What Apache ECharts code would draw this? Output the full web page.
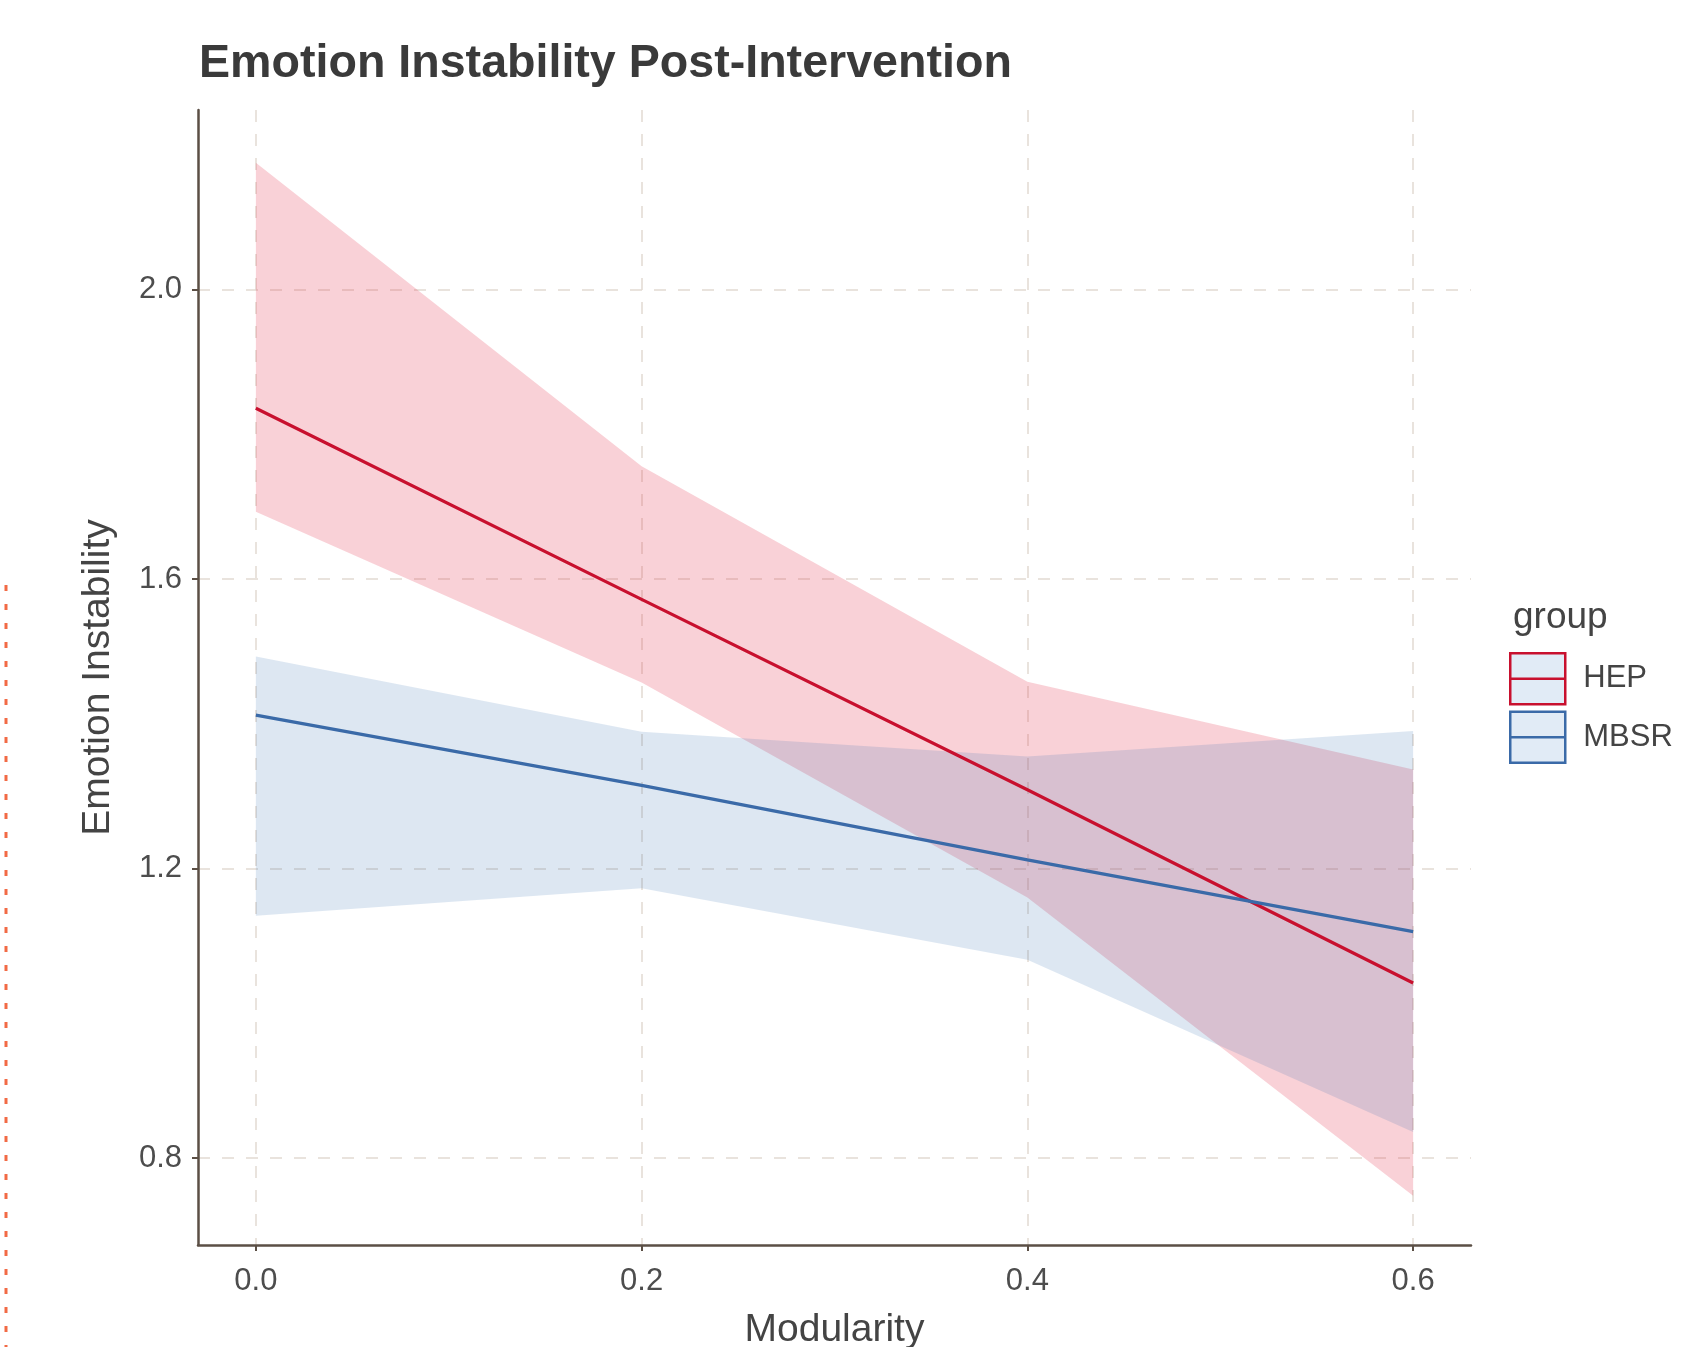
<!DOCTYPE html>
<html>
<head>
<meta charset="utf-8">
<title>Emotion Instability Post-Intervention</title>
<script src="https://cdn.jsdelivr.net/npm/echarts@6/dist/echarts.min.js"></script>
<style>
  html, body { margin: 0; padding: 0; background: #fff; }
  #chart { width: 1698px; height: 1347px; }
</style>
</head>
<body>
<div id="chart"></div>
<script>
  // points where the model was evaluated
  var modularity = [0, 0.2, 0.4, 0.6]
  var xTicks = [0, 0.2, 0.4, 0.6]
  var yTicks = [0.8, 1.2, 1.6, 2.0]

  var hepFit = [1.836, 1.572, 1.309, 1.042]
  var hepLow = [1.693, 1.457, 1.160, 0.748]
  var hepHigh = [2.175, 1.756, 1.458, 1.337]

  var mbsrFit = [1.412, 1.315, 1.212, 1.113]
  var mbsrLow = [1.135, 1.173, 1.074, 0.836]
  var mbsrHigh = [1.493, 1.389, 1.355, 1.390]

  var RED = '#c8102e'
  var BLUE = '#3a6aa8'
  var AXIS = '#5b4f45'
  var GRID = '#e2dad2'
  var FONT = 'Liberation Sans, Arial, sans-serif'

  function pairs(ys) {
    return modularity.map(function (x, i) { return [x, ys[i]] })
  }

  // confidence ribbon, drawn as one polygon through the axis scales
  function bandSeries(name, lo, hi, fill) {
    return {
      name: name + ' band',
      type: 'custom',
      silent: true,
      data: modularity.map(function (x, i) { return [x, lo[i], hi[i]] }),
      encode: { x: 0, y: [1, 2] },
      renderItem: function (params, api) {
        if (params.dataIndex !== 0) {
          return null
        }
        var upper = modularity.map(function (x, i) { return api.coord([x, hi[i]]) })
        var lower = modularity.map(function (x, i) { return api.coord([x, lo[i]]) }).reverse()
        return {
          type: 'polygon',
          shape: { points: upper.concat(lower) },
          style: { fill: fill }
        }
      }
    }
  }

  var keyIcon = 'path://M0,0L55,0L55,51L0,51Z M0,25.5L55,25.5'

  var chart = echarts.init(document.getElementById('chart'))
  chart.setOption({
    animation: false,
    backgroundColor: '#ffffff',
    title: [{
      text: 'Emotion Instability Post-Intervention',
      left: 194,
      top: 36,
      textStyle: { fontFamily: FONT, fontSize: 46.6, fontWeight: 'bold', color: '#3a3a3a' }
    }, {
      text: 'group',
      left: 1508,
      top: 594,
      textStyle: { fontFamily: FONT, fontSize: 37, fontWeight: 'normal', color: '#444' }
    }],
    grid: { left: 198, right: 227, top: 110, bottom: 102, outerBoundsMode: 'none' },
    legend: {
      orient: 'vertical',
      left: 1509,
      top: 652,
      padding: 0,
      itemWidth: 55,
      itemHeight: 51,
      itemGap: 5,
      selectedMode: false,
      textStyle: { fontFamily: FONT, fontSize: 31, color: '#444', padding: [0, 0, 0, 13] },
      data: [
        { name: 'HEP', icon: keyIcon, itemStyle: { color: '#e1ebf6', borderColor: RED, borderWidth: 2.5 } },
        { name: 'MBSR', icon: keyIcon, itemStyle: { color: '#e1ebf6', borderColor: BLUE, borderWidth: 2.5 } }
      ]
    },
    xAxis: {
      type: 'value',
      min: -0.03,
      max: 0.63,
      name: 'Modularity',
      nameLocation: 'middle',
      nameGap: 66,
      nameTextStyle: { fontFamily: FONT, fontSize: 39, color: '#444' },
      axisLine: { onZero: false, lineStyle: { color: AXIS, width: 2.5 } },
      axisTick: { customValues: xTicks, length: 6, lineStyle: { color: AXIS, width: 2 } },
      axisLabel: {
        customValues: xTicks,
        margin: 21,
        fontFamily: FONT,
        fontSize: 31,
        color: '#4d4d4d',
        formatter: function (v) { return v.toFixed(1) }
      },
      splitLine: { show: true, lineStyle: { color: GRID, width: 1.5, type: [12, 12] } }
    },
    yAxis: {
      type: 'value',
      min: 0.68,
      max: 2.248,
      name: 'Emotion Instability',
      nameLocation: 'middle',
      nameGap: 80,
      nameTextStyle: { fontFamily: FONT, fontSize: 39, color: '#444' },
      axisLine: { show: true, onZero: false, lineStyle: { color: AXIS, width: 2.5 } },
      axisTick: { show: true, customValues: yTicks, length: 6, lineStyle: { color: AXIS, width: 2 } },
      axisLabel: {
        customValues: yTicks,
        margin: 16,
        fontFamily: FONT,
        fontSize: 31,
        color: '#4d4d4d',
        formatter: function (v) { return v.toFixed(1) }
      },
      splitLine: { show: true, lineStyle: { color: GRID, width: 1.5, type: [12, 12] } }
    },
    graphic: [{
      // dotted page edge at the left
      type: 'line',
      shape: { x1: 6, y1: 585, x2: 6, y2: 1347 },
      style: { stroke: '#f26a45', lineWidth: 3, lineDash: [6, 13] }
    }],
    series: [
      bandSeries('HEP', hepLow, hepHigh, 'rgba(226,44,74,0.22)'),
      bandSeries('MBSR', mbsrLow, mbsrHigh, 'rgba(55,110,175,0.17)'),
      {
        name: 'HEP',
        type: 'line',
        data: pairs(hepFit),
        symbol: 'none',
        color: RED,
        lineStyle: { color: RED, width: 3.2 }
      }, {
        name: 'MBSR',
        type: 'line',
        data: pairs(mbsrFit),
        symbol: 'none',
        color: BLUE,
        lineStyle: { color: BLUE, width: 3.2 }
      }
    ]
  })
</script>
</body>
</html>
